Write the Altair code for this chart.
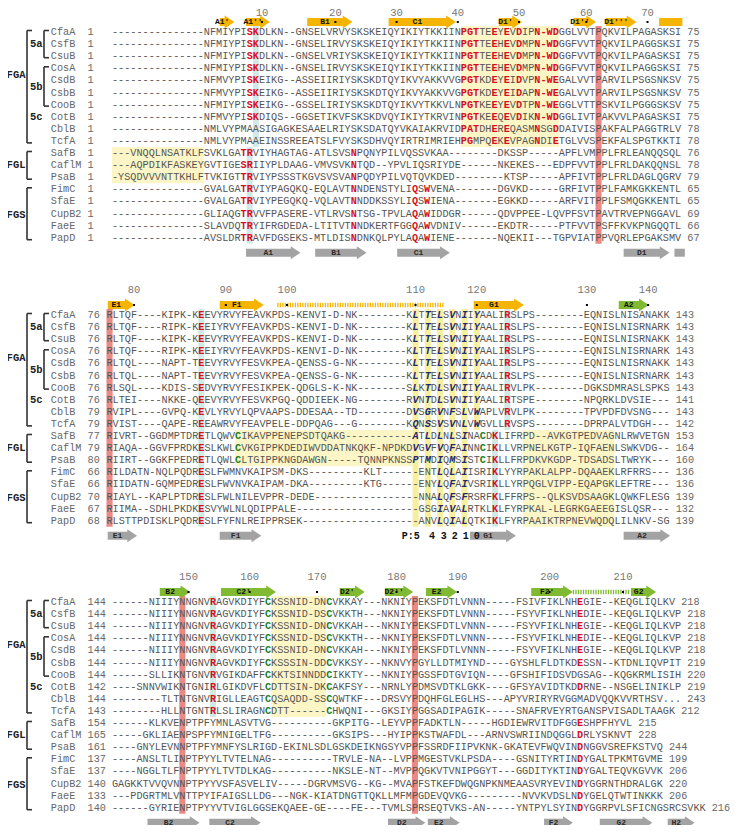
import altair as alt
import pandas as pd

NAMES = ["CfaA", "CsfB", "CsuB", "CosA", "CsdB", "CsbB", "CooB", "CotB", "CblB", "TcfA",
         "SafB", "CaflM", "PsaB", "FimC", "SfaE", "CupB2", "FaeE", "PapD"]

START1 = [1] * 18
END1 = [75, 75, 75, 75, 75, 75, 75, 75, 78, 78, 76, 78, 79, 65, 65, 69, 66, 67]
SEQ1 = [
    "---------------NFMIYPISKDLKN--GNSELVRVYSKSKEIQYIKIYTKKIINPGTTEEYEVDIPN-WDGGLVVTPQKVILPAGASKSI",
    "---------------NFMIYPISKDLKN--GNSELIRVYSKSKEIQYIKIYTKKIINPGTTEEHEVDMPN-WDGGFVVTPQKVILPAGGSKSI",
    "---------------NFMIYPISKDLKN--GNSELVRIYSKSKEIQYIKIYTKKIINPGTTEEHEVDMPN-WDGGFVVTPQKVILPAGASKSI",
    "---------------NFMIYPISKDLKN--GNSELIRVYSKSKEIQYIKIYTKKIINPGTTEEHEVDMPN-WDGGFVVTPQKVILPAGGSKSI",
    "---------------NFMVYPISKEIKG--ASSEIIRIYSKSKDTQYIKVYAKKVVGPGTKDEYEIDVPN-WEGALVVTPARVILPSGSNKSV",
    "---------------NFMVYPISKEIKG--ASSEIIRIYSKSKDTQYIKVYAKKVVGPGTKDEYEIDAPN-WEGALVVTPARVILPSGSNKSV",
    "---------------NFMIYPISKEIKG--GSSELIRIYSKSKDTQYIKVYTKKVLNPGTKEEYEVDTPN-WEGGLVTTPSKVILPGGGSKSV",
    "---------------NFMVYPISKDIQS--GGSETIKVFSKSKDVQYIKIYTKRVINPGTKEEQEVDIKN-WDGGLIVTPAKVVLPAGASKSI",
    "---------------NMLVYPMAASIGAGKESAAELRIYSKSDATQYVKAIAKRVIDPATDHEREQASMNSGDDAIVISPAKFALPAGGTRLV",
    "---------------NMLVYPMAAEINSSREEATSLFVYSKSDHVQYIRTRIMRIEHPGMPQEKEVPAGNDIETGLVVSPEKFALSPGTKKTI",
    "---VNQQLNSATKLFSVKLGATRVIYHAGTAG-ATLSVSNPQNYPILVQSSVKAA--------DKSSP-----APFLVMPPLFRLEANQQSQL",
    "---AQPDIKFASKEYGVTIGESRIIYPLDAAG-VMVSVKNTQD--YPVLIQSRIYDE------NKEKES---EDPFVVTPPLFRLDAKQQNSL",
    "-YSQDVVVNTTKHLFTVKIGTTRVIYPSSSTKGVSVSVANPQDYPILVQTQVKDED--------KTSP-----APFIVTPPLFRLDAGLQGRV",
    "---------------GVALGATRVIYPAGQKQ-EQLAVTNNDENSTYLIQSWVENA-------DGVKD-----GRFIVTPPLFAMKGKKENTL",
    "---------------GVALGATRVIYPEGQKQ-VQLAVTNNDDKSSYLIQSWIENA-------EGKKD-----ARFVITPPLFSMQGKKENTL",
    "---------------GLIAQGTRVVFPASERE-VTLRVSNTSG-TPVLAQAWIDDGR------QDVPPEE-LQVPFSVTPAVTRVEPNGGAVL",
    "---------------SLAVDQTRYIFRGDEDA-LTITVTNNDKERTFGGQAWVDNIV------EKDTR-----PTFVVTPSFFKVKPNGQQTL",
    "---------------AVSLDRTRAVFDGSEKS-MTLDISNDNKQLPYLAQAWIENE-------NQEKII---TGPVIATPPVQRLEPGAKSMV",
]

START2 = [76, 76, 76, 76, 76, 76, 76, 76, 79, 79, 77, 79, 80, 66, 66, 70, 67, 68]
END2 = [143, 143, 143, 143, 143, 143, 143, 141, 143, 142, 153, 164, 160, 136, 136, 139, 132, 139]
SEQ2 = [
    "RLTQF----KIPK-KEEVYRVYFEAVKPDS-KENVI-D-NK--------KLTTELSVNIIYAALIRSLPS--------EQNISLNISANAKK",
    "RLTQF----RIPK-KEEIYRVYFEAVKPDS-KENVI-D-NK--------KLTTELSVNIIYAALIRSLPS--------EQNISLNISRNARK",
    "RLTQF----KIPK-KEEVYRVYFEAVKPDS-KENVI-D-NK--------KLTTELSVNIIYAALIRSLPS--------EQNISLNISRNAKK",
    "RLTQF----RIPK-KEEIYRVYFEAVKPDS-KENVI-D-NK--------KLTTELSVNIIYAALIRSLPS--------EQNISLNISRNARK",
    "RLTQL----NAPT-TEEVYRVYFESVKPEA-QENSS-G-NK--------KLTTELSVNIIYAALIRSLPS--------EQNISLNISRNAKK",
    "RLTQL----NAPT-TEEVYRVYFESVKPEA-QENSS-G-NK--------KLTTELSVNIIYAALIRSLPS--------EQNISLNISRNARK",
    "RLSQL----KDIS-SEDVYRVYFESIKPEK-QDGLS-K-NK--------SLKTDLSVNIIYAALIRVLPK--------DGKSDMRASLSPKS",
    "RLTEI----NKKE-QEEVYRVYFESVKPGQ-QDDIEEK-NG--------RVNTDLSVNIIYAALIRTSPE--------NPQRKLDVSIE---",
    "RVIPL----GVPQ-KEVLYRVYLQPVAAPS-DDESAA--TD--------DVSGRVNFSLVWAPLVRVLPK--------TPVPDFDVSNG---",
    "RVIST----QAPE-REEAWRVYFEAVPELE-DDPQAG---G--------KQNSSVSVNLVWGVLLRVSPS--------DPRPALVTDGH---",
    "RIVRT--GGDMPTDRETLQWVCIKAVPPENEPSDTQAKG-----------ATLDLNLSINACDKLIFRPD--AVKGTPEDVAGNLRWVETGN",
    "RIAQA--GGVFPRDKESLKWLCVKGIPPKDEDIWVDDATNKQKF-NPDKDVGVFVQFAINNCIKLLVRPNELKGTP-IQFAENLSWKVDG--",
    "RIIRT--GGKFPEDRETLQWLCLTGIPPKNGDAWGN-----TQNNPKNSSPTMDIQMSISTCIKLLFRPDKVKGDP-TDSADSLTWRYK---",
    "RILDATN-NQLPQDRESLFWMNVKAIPSM-DKS---------KLT------ENTLQLAIISRIKLYYRPAKLALPP-DQAAEKLRFRRS---",
    "RIIDATN-GQMPEDRESLFWVNVKAIPAM-DKA---------KTG------ENYLQFAIVSRIKLLYRPQGLVIPP-EQAPGKLEFTRE---",
    "RIAYL--KAPLPTDRESLFWLNILEVPPR-DEDE-----------------NNALQFSFRSRFKLFFRPS--QLKSVDSAAGKLQWKFLESG",
    "RIIMA--SDHLPKDKESVYWLNLQDIPPALE--------------------GSGIAVALRTKLKLFYRPKAL-LEGRKGAEEGISLQSR---",
    "RLSTTPDISKLPQDRESLFYFNLREIPPRSEK-------------------ANVLQIALQTKIKLFYRPAAIKTRPNEVWQDQLILNKV-SG",
]

START3 = [144, 144, 144, 144, 144, 144, 144, 142, 144, 143, 154, 165, 161, 137, 137, 140, 133, 140]
END3 = [218, 218, 218, 218, 218, 219, 220, 219, 243, 212, 215, 228, 244, 199, 206, 220, 206, 216]
SEQ3 = [
    "------NIIIYNNGNVRAGVKDIYFCKSSNID-DNCVKKAY---NKNIYPEKSFDTLVNNN-----FSIVFIKLNHEGIE--KEQGLIQLKV",
    "------NIIIYNNGNVRAGVKDIYFCKSSNID-DSCVKKTH---NKNIYPEKSFDTLVNNN-----FSYVFIKLNHEDIE--KEQGLIQLKVP",
    "------NIIIYNNGNVRAGVKDIYFCKSSNID-DNCVKKAH---NKNIYPEKSFDTLVNNN-----FSYVFIKLNHEGIE--KEQGLIQLKVP",
    "------NIIIYNNGNVRAGVKDIYFCKSSNID-DSCVKKTH---NKNIYPEKSFDTLVNNN-----FSYVFIKLNHEDIE--KEQGLIQLKVP",
    "------NIIIYNNGNVRAGVKDIYFCKSSNID-DNCVKKAH---NKNIYPEKSFDTLVNNN-----FSYVFIKLNHEGIE--KEQGLIQLKVP",
    "------NIIIYNNGNVRAGVKDIYFCKSSSIN-DDCVKKSY---NKNVYPGYLLDTMIYND----GYSHLFLDTKDESSN--KTDNLIQVPIT",
    "------SLLIKNTGNVRVGIKDAFFCKKTSINNDDCIKKTY---NKNIYPGSSFDTGVIQN----GFSHIFIDSVDGSAG--KQGKRMLISIH",
    "----SNNVWIKNTGNIRLGIKDVFLCDTTSIN-DKCAKFSY---NRNLYPDMSVDTKLGKK----GFSYAVIDTKDDRNE--NSGELINIKLP",
    "--------TLTNTGNVRIGLLEAGTCQSAQDD-SSCQWTKF---DRSVYPDQHFGLEGLHS---APYVRIRYRVGGMADVQQKVVRTHSV...",
    "--------HLLNTGNTRLSLIRAGNCDTT------CHWQNI---GKSIYPGGSADIPAGIK-----SNAFRVEYRTGANSPVISADLTAAGK",
    "------KLKVENPTPFYMNLASVTVG----------GKPITG--LEYVPPFADKTLN-----HGDIEWRVITDFGGESHPFHYVL",
    "-----GKLIAENPSPFYMNIGELTFG----------GKSIPS---HYIPPKSTWAFDL---ARNVSWRIINDQGGLDRLYSKNVT",
    "----GNYLEVNNPTPFYMNFYSLRIGD-EKINLSDLGSKDEIKNGSYVPPFSSRDFIIPVKNK-GKATEVFWQVINDNGGVSREFKSTVQ",
    "----ANSLTLINPTPYYLTVTELNAG----------TRVLE-NA--LVPPMGESTVKLPSDA----GSNITYRTINDYGALTPKMTGVME",
    "----NGGLTLFNPTPYYLTVTDLKAG----------NKSLE-NT--MVPPQGKVTVNIPGGYT---GGDITYKTINDYGALTEQVKGVVK",
    "GAGKKTVVQVNNPTPYYVSFASVELIV-----DGRVMSVG--KG--MVAPFSTKEFDWQGNPKNMEAASVRYEVINDYGGRNTHDRALGK",
    "---PDGRTMLVNTTPYIFAIGSLLDG---NGK-KIATDNGTTQKLLMFMPGDEVQVKG---------NVVKVDSLNDYGELQTWTINKKK",
    "------GYRIENPTPYYVTVIGLGGSEKQAEE-GE----FE---TVMLSPRSEQTVKS-AN-----YNTPYLSYINDYGGRPVLSFICNGSRCSVKK",
]

BLOCKS = [(SEQ1, START1, END1), (SEQ2, START2, END2), (SEQ3, START3, END3)]

# residue colouring: (rows, 1-based alignment columns)
RED = {
    0: [(range(0, 8), [23, 24]), (range(10, 18), [22, 23, 40]), (range(13, 18), [50, 52]),
        (range(0, 8), [58, 59, 60, 63, 65, 67, 70, 71, 72, 73]),
        ([8], [58, 59, 60, 63, 65, 70, 73]), ([9], [58, 59, 63, 65, 70, 73])],
    1: [(range(0, 18), [16]), (range(0, 10), [66]), (range(10, 18), [64])],
    2: [(range(0, 10), [17]), ([0, 1, 2, 3, 4, 5, 7] + list(range(10, 18)), [77])],
}
GREEN = {0: [], 1: [(range(10, 13), [22, 62])], 2: [(range(0, 10), [26, 36])]}
ITAL = {0: [], 1: [(range(0, 10), [51, 53, 55, 57, 59, 61]), (range(10, 13), [51, 53, 55, 57, 59]),
                   (range(13, 18), [55, 57, 59])], 2: []}

# shaded columns: block, (first row, last row), first col, last col, kind
SHADE = [
    (0, (0, 9), 58, 73, "yellow"), (0, (10, 12), 1, 15, "yellow"),
    (1, (10, 12), 22, 50, "yellow"), (1, (10, 17), 69, 83, "yellow"),
    (2, (0, 9), 27, 35, "yellow"),
    (1, (0, 17), 51, 51, "stripe"), (1, (0, 17), 53, 53, "stripe"), (1, (0, 17), 55, 55, "stripe"),
    (1, (0, 17), 57, 57, "stripe"), (1, (0, 17), 59, 59, "stripe"), (1, (0, 9), 61, 61, "stripe"),
    (0, (0, 9), 24, 24, "teal"), (0, (10, 17), 23, 23, "teal"),
    (1, (0, 17), 16, 16, "teal"), (1, (0, 9), 66, 66, "teal"), (1, (10, 17), 64, 64, "teal"),
    (2, (0, 9), 17, 17, "teal"),
    (0, (0, 17), 80, 80, "red"), (1, (0, 17), 1, 1, "red"),
    (2, (0, 17), 12, 12, "red"), (2, (0, 17), 50, 50, "red"),
]
SHADE_COL = {"yellow": "#fcf6c6", "stripe": "#f7efa0", "teal": "#d2eae6", "red": "#e98a86"}

# secondary structure (label, start edge, end edge, kind) in alignment columns
SS_TOP = {
    0: [("A1'", 17.6, 20.0, "y"), ("A1''", 21.9, 25.8, "y"), ("B1", 31.9, 39.3, "y"),
        ("C1", 45.2, 56.2, "y"), ("D1'", 63.2, 67.0, "y"), ("D1''", 75.4, 79.1, "y"),
        ("D1'''", 80.7, 85.7, "y"), ("", 89.4, 93.2, "ybar")],
    1: [("E1", 0.2, 4.6, "y"), ("F1", 18.5, 25.7, "y"), ("", 27.9, 55.1, "ydot"),
        ("G1", 60.0, 68.2, "y"), ("A2", 83.7, 88.6, "g")],
    2: [("B2", 7.8, 12.8, "g"), ("C2'", 17.8, 26.8, "g"), ("D2'", 37.2, 41.3, "g"),
        ("D2''", 44.6, 49.2, "g"), ("E2", 51.3, 56.4, "g"), ("F2'", 68.5, 75.3, "g"),
        ("", 75.3, 84.6, "gdot"), ("G2", 84.8, 88.9, "g")],
}
SS_BOT = {
    0: [("A1", 21.9, 30.8, "s"), ("B1", 33.2, 41.6, "s"), ("C1", 46.6, 55.2, "s"),
        ("D1", 83.6, 91.1, "s"), ("", 91.9, 93.6, "sbar")],
    1: [("E1", 0.2, 5.0, "s"), ("F1", 18.5, 25.3, "s"), ("G1", 59.4, 66.9, "s"), ("A2", 84.5, 92.1, "s")],
    2: [("B2", 5.8, 14.3, "s"), ("C2", 15.9, 24.3, "s"), ("D2", 45.1, 51.2, "s"), ("E2", 51.6, 56.8, "s"),
        ("F2", 70.6, 75.3, "s"), ("G2", 79.7, 88.3, "s"), ("H2", 90.8, 95.2, "s")],
}
POCKET = [("P:5", 51.2, "right"), ("4", 53.7, "center"), ("3", 55.6, "center"),
          ("2", 57.4, "center"), ("1", 59.2, "center"), ("0", 61.0, "center")]

# ---------------- layout ----------------
W, H = 725, 817
TOPS = [32.0, 315.0, 602.0]
RULER_Y = [12.5, 290.0, 577.0]
PITCH = 12.1
CW = 6.12
X0 = 112.0
OFF = [0.0, -0.9, 0.0]
MONO = "Liberation Mono"
FS = 10.2
KCOL = {"y": "#f5b400", "g": "#80b932", "s": "#a3a3a3", "ybar": "#f5b400", "sbar": "#a3a3a3",
        "ydot": "#f5b400", "gdot": "#80b932"}


def px2u(px):
    return (px - X0) / CW


def row_y(b, i):
    return TOPS[b] + i * PITCH


XS = alt.Scale(domain=[px2u(8), px2u(8 + W)], nice=False, zero=False)
YS = alt.Scale(domain=[8, 8 + H], reverse=True, nice=False, zero=False)


def X(f):
    return alt.X(f, type="quantitative", scale=XS, axis=None)


def Y(f):
    return alt.Y(f, type="quantitative", scale=YS, axis=None)


def to_set(rules):
    s = set()
    for rows, cols in rules:
        for r in rows:
            for c in cols:
                s.add((r, c))
    return s


chars, labels, ruler, dots = [], [], [], []
for b, (seqs, st, en) in enumerate(BLOCKS):
    red, grn, ita = to_set(RED[b]), to_set(GREEN[b]), to_set(ITAL[b])
    for i, s in enumerate(seqs):
        y = row_y(b, i)
        for c, ch in enumerate(s):
            col = c + 1
            if (i, col) in red and (ch != "-" or b == 0):
                k = "red"
            elif (i, col) in grn and ch != "-":
                k = "green"
            elif (i, col) in ita and ch != "-":
                k = "ital"
            else:
                k = "norm"
            chars.append({"u": c + 0.5 + OFF[b], "y": y, "ch": ch, "k": k})
        labels.append({"u": -10.0, "y": y, "t": NAMES[i]})
        labels.append({"u": -4.0, "y": y, "t": str(st[i])})
        labels.append({"u": len(s) + 1 + OFF[b], "y": y, "t": str(en[i])})
    # ruler from the first sequence
    r = st[0] - 1
    for c, ch in enumerate(seqs[0]):
        if ch != "-":
            r += 1
            if r % 10 == 0:
                ruler.append({"u": c + 0.5 + OFF[b], "y": RULER_Y[b], "t": str(r)})
                dots.append({"u": c + 0.5 + OFF[b], "y": TOPS[b] - 10})

df_chars = pd.DataFrame(chars)
order = {"yellow": 0, "stripe": 1, "teal": 2, "red": 3}
rects = []
for b, (r0, r1), c0, c1, kind in sorted(SHADE, key=lambda t: order[t[4]]):
    rects.append({"u0": c0 - 1 + OFF[b], "u1": c1 + OFF[b], "y0": row_y(b, r0) - PITCH / 2,
                  "y1": row_y(b, r1) + PITCH / 2, "col": SHADE_COL[kind]})

arrows = []
for b in range(3):
    for pos, table in (("top", SS_TOP[b]), ("bot", SS_BOT[b])):
        yc = TOPS[b] - 10 if pos == "top" else row_y(b, 17) + 15
        for lab, a0, a1, kind in table:
            arrows.append({"u0": a0 + OFF[b], "u1": a1 + OFF[b], "um": (a0 + a1) / 2 - 0.8 + OFF[b],
                           "y": yc, "y0": yc - 4, "y1": yc + 4, "lab": lab, "kind": kind,
                           "col": KCOL[kind], "tc": "#111111" if pos == "top" else "#2a2a2a"})
df_arr = pd.DataFrame(arrows)

# brackets (page pixel layout)
brackets, groups = [], []
for b in range(3):
    R = lambda i: row_y(b, i)
    segs = [
        (27, R(0) - 1.5, 27, R(9) + 2), (27, R(0) - 1.5, 32, R(0) - 1.5), (27, R(9) + 2, 32, R(9) + 2),
        (44, R(0) - 1.5, 44, R(2) + 1.5), (44, R(0) - 1.5, 49, R(0) - 1.5), (44, R(2) + 1.5, 49, R(2) + 1.5),
        (44, R(3) - 1.5, 44, R(6) + 1.5), (44, R(3) - 1.5, 49, R(3) - 1.5), (44, R(6) + 1.5, 49, R(6) + 1.5),
        (27, R(10) - 1.5, 27, R(12) + 2), (27, R(10) - 1.5, 32, R(10) - 1.5), (27, R(12) + 2, 32, R(12) + 2),
        (27, R(13) - 1.5, 27, R(17) + 2), (27, R(13) - 1.5, 32, R(13) - 1.5), (27, R(17) + 2, 32, R(17) + 2),
    ]
    for x1, y1, x2, y2 in segs:
        brackets.append({"u": px2u(x1), "u2": px2u(x2), "y": y1, "y2": y2})
    groups += [
        {"u": px2u(25.5), "y": (R(3) + R(4)) / 2 + 1, "t": "FGA"},
        {"u": px2u(42.5), "y": R(1), "t": "5a"},
        {"u": px2u(42.5), "y": (R(4) + R(5)) / 2 + 1, "t": "5b"},
        {"u": px2u(42.5), "y": R(7), "t": "5c"},
        {"u": px2u(25.5), "y": R(11), "t": "FGL"},
        {"u": px2u(25.5), "y": R(15) + 1, "t": "FGS"},
    ]

pock = [{"u": (c if al == "right" else c - 0.5) + OFF[1], "y": row_y(1, 17) + 15, "t": t, "al": al}
        for t, c, al in POCKET]

layers = []
layers.append(alt.Chart(pd.DataFrame(rects)).mark_rect().encode(
    x=X("u0"), x2="u1", y=Y("y0"), y2="y1", color=alt.Color("col:N", scale=None)))


def text_layer(df, color, weight="normal", style="normal", size=FS, align="center", font=MONO):
    return alt.Chart(df).mark_text(font=font, fontSize=size, fontWeight=weight, fontStyle=style,
                                   color=color, align=align, baseline="middle").encode(
        x=X("u"), y=Y("y"), text="t:N")


dc = df_chars.rename(columns={"ch": "t"})
layers.append(text_layer(dc[dc.k == "norm"], "#555555"))
layers.append(text_layer(dc[dc.k == "red"], "#d50f1f", weight="bold"))
layers.append(text_layer(dc[dc.k == "green"], "#15801a", weight="bold"))
layers.append(text_layer(dc[dc.k == "ital"], "#1f2a6e", weight="bold", style="italic"))

dl = pd.DataFrame(labels)
layers.append(text_layer(dl, "#666666", align="left"))
layers.append(text_layer(pd.DataFrame(ruler), "#777777", size=10.5))

# secondary structure
arr = df_arr[df_arr.kind.isin(["y", "g", "s"])]
bar = df_arr[df_arr.kind.isin(["ybar", "sbar"])]
dot = df_arr[df_arr.kind.isin(["ydot", "gdot"])]
layers.append(alt.Chart(arr).mark_rect(x2Offset=-9).encode(
    x=X("u0"), x2="u1", y=Y("y0"), y2="y1", color=alt.Color("col:N", scale=None)))
layers.append(alt.Chart(arr).mark_point(shape="M -1.5 -1 L 0 0 L -1.5 1 Z", size=169, filled=True,
                                        opacity=1, strokeWidth=0).encode(
    x=X("u1"), y=Y("y"), color=alt.Color("col:N", scale=None)))
layers.append(alt.Chart(bar).mark_rect().encode(
    x=X("u0"), x2="u1", y=Y("y0"), y2="y1", color=alt.Color("col:N", scale=None)))
layers.append(alt.Chart(dot).mark_rule(strokeWidth=4.5, strokeDash=[1.3, 1.2]).encode(
    x=X("u0"), x2="u1", y=Y("y"), color=alt.Color("col:N", scale=None)))
layers.append(alt.Chart(arr[arr.lab != ""]).mark_text(font=MONO, fontSize=8, fontWeight="bold",
                                                      baseline="middle", align="center").encode(
    x=X("um"), y=Y("y"), text="lab:N", color=alt.Color("tc:N", scale=None)))
layers.append(alt.Chart(pd.DataFrame(dots)).mark_point(shape="square", size=4, filled=True,
                                                       color="#000000", opacity=1).encode(
    x=X("u"), y=Y("y")))

# brackets and group names
layers.append(alt.Chart(pd.DataFrame(brackets)).mark_rule(color="#333333", strokeWidth=1.6).encode(
    x=X("u"), x2="u2", y=Y("y"), y2="y2"))
layers.append(text_layer(pd.DataFrame(groups), "#222222", weight="bold", size=10.5, align="right"))
dp = pd.DataFrame(pock)
layers.append(text_layer(dp[dp.al == "right"], "#111111", weight="bold", size=10, align="right"))
layers.append(text_layer(dp[dp.al == "center"], "#111111", weight="bold", size=10))

chart = alt.layer(*layers).properties(
    width=W, height=H, padding=0, autosize=alt.AutoSizeParams(type="none"),
    background="white").configure_view(stroke=None)

chart.save("out.html", embed_options={"renderer": "svg", "actions": False})
